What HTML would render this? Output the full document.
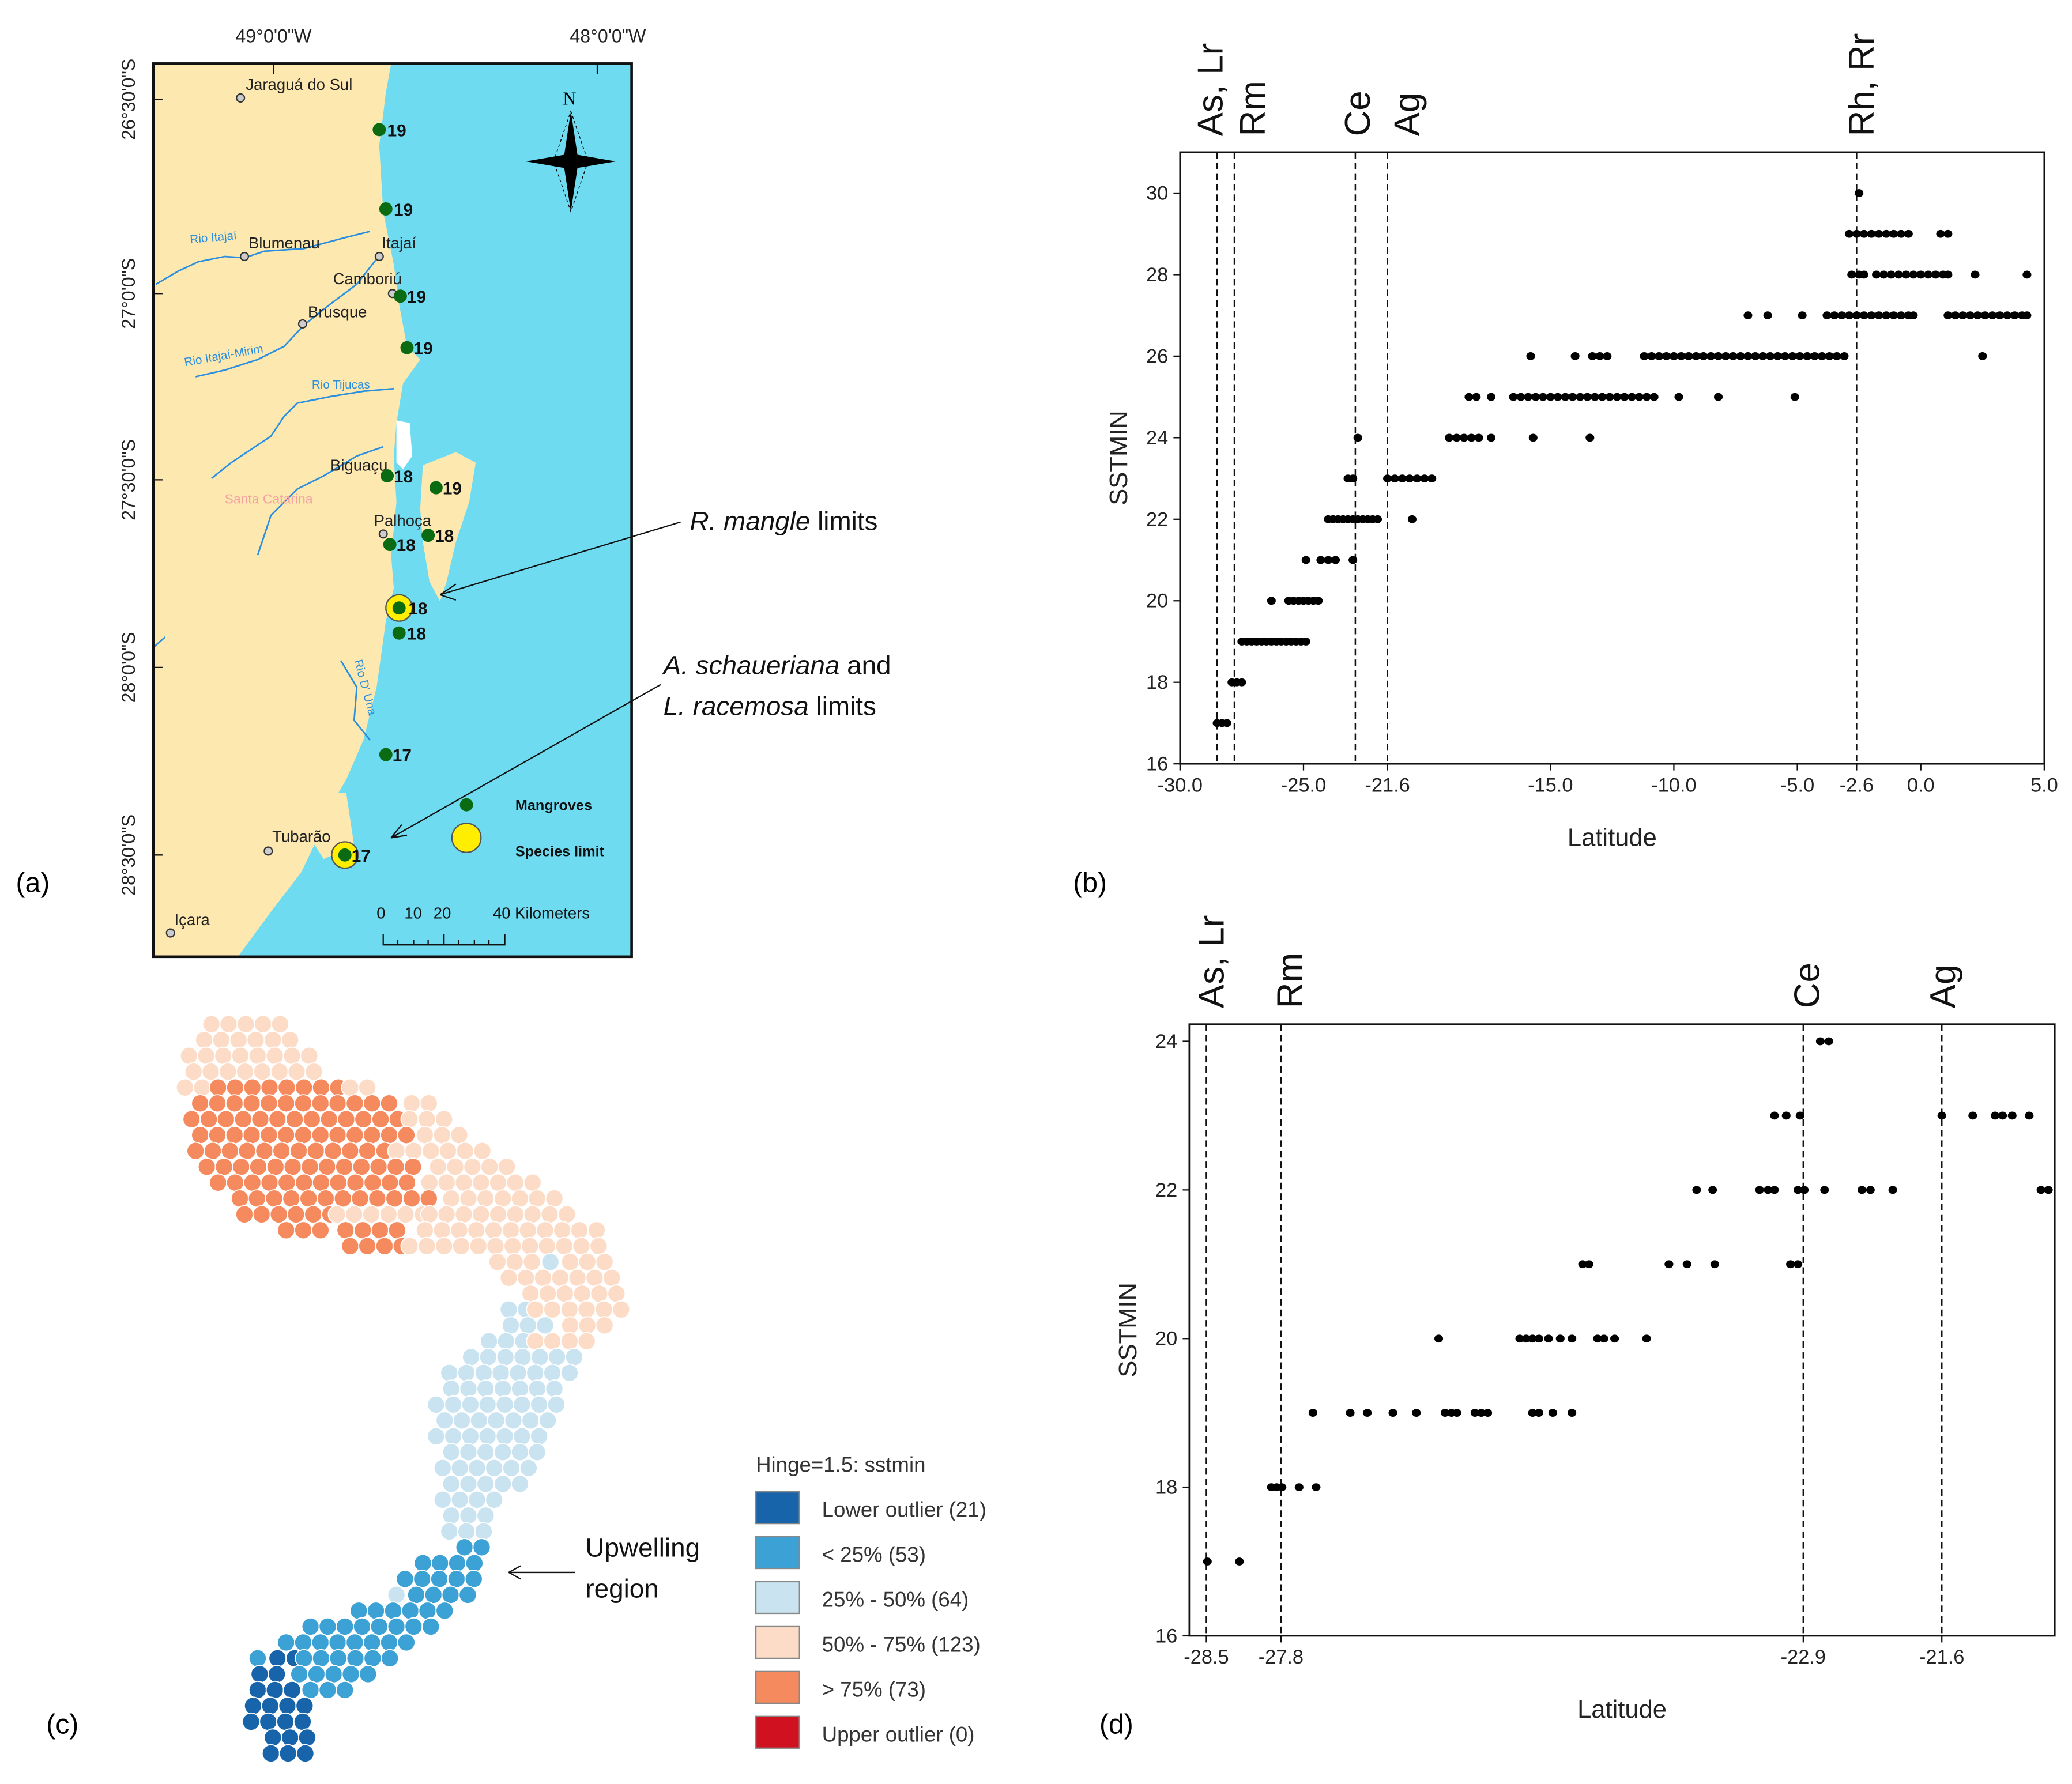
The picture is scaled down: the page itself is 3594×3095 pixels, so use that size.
<!DOCTYPE html>
<html><head><meta charset="utf-8"><style>
html,body{margin:0;padding:0;background:#fff;}
svg{display:block;font-family:"Liberation Sans",Arial,sans-serif;}
</style></head><body>
<svg id="root" width="3594" height="3095" viewBox="0 0 1568 1350" xmlns="http://www.w3.org/2000/svg">
<rect width="1568" height="1350" fill="#fff"/>

<!-- ===== Panel (a) map ===== -->
<g>
  <rect x="116" y="48" width="362" height="676" fill="#6edbf1"/>
  <path fill="#fde8b0" d="M116,48 L296,48 L292,70 L287,110 L290,160 L298,200 L302,230 L308,262 L318,272 L305,290 L300,320 L298,345 L300,380 L296,420 L298,445 L292,470 L285,520 L275,560 L262,590 L250,610 L240,635 L228,660 L205,690 L180,724 L116,724 Z"/>
  <path fill="#fde8b0" d="M320,352 L345,342 L360,350 L355,380 L345,410 L338,440 L333,455 L325,440 L320,410 L318,385 Z"/>
  <path fill="#fde8b0" d="M236,600 L262,600 L268,640 L245,650 L232,630 Z"/>
  <path fill="#fff" d="M300,318 L310,320 L312,345 L305,355 L300,350 Z"/>
  <g fill="none" stroke="#2a8fe0" stroke-width="1.2">
    <path d="M118,215 L135,205 L150,198 L170,194 L185,195 L200,190 L230,188 L260,180 L280,175"/>
    <path d="M148,285 L170,280 L195,272 L215,262 L230,246 L250,230 L270,215 L288,192"/>
    <path d="M160,362 L175,350 L190,340 L205,330 L215,315 L225,305 L250,300 L275,296 L298,294"/>
    <path d="M195,420 L205,390 L225,370 L245,360 L270,345 L290,338"/>
    <path d="M258,500 L270,520 L268,545 L280,560"/>
    <path d="M116,490 L125,482"/>
  </g>
  <g font-size="9" fill="#2a8fe0">
    <text x="144" y="184" transform="rotate(-5 144 184)">Rio Itajaí</text>
    <text x="140" y="277" transform="rotate(-10 140 277)">Rio Itajaí-Mirim</text>
    <text x="236" y="294">Rio Tijucas</text>
    <text x="268" y="500" transform="rotate(75 268 500)">Rio D' Una</text>
  </g>
  <text x="170" y="381" font-size="10" fill="#f2a0a0">Santa Catarina</text>
  <g font-size="12" fill="#222">
    <circle cx="182" cy="74" r="3" fill="#ccc" stroke="#333"/><text x="186" y="68">Jaraguá do Sul</text>
    <circle cx="185" cy="194" r="3" fill="#ccc" stroke="#333"/><text x="188" y="188">Blumenau</text>
    <circle cx="287" cy="194" r="3" fill="#ccc" stroke="#333"/><text x="289" y="188">Itajaí</text>
    <text x="252" y="215">Camboriú</text><circle cx="297" cy="222" r="3" fill="#ccc" stroke="#333"/>
    <circle cx="229" cy="245" r="3" fill="#ccc" stroke="#333"/><text x="233" y="240">Brusque</text>
    <text x="250" y="356">Biguaçu</text>
    <circle cx="290" cy="404" r="3" fill="#ccc" stroke="#333"/><text x="283" y="398">Palhoça</text>
    <circle cx="203" cy="644" r="3" fill="#ccc" stroke="#333"/><text x="206" y="637">Tubarão</text>
    <circle cx="129" cy="706" r="3" fill="#ccc" stroke="#333"/><text x="132" y="700">Içara</text>
  </g>
  <g font-size="13" font-weight="bold" fill="#111">
    <circle cx="302" cy="460" r="10" fill="#ffee00" stroke="#555"/>
    <circle cx="261" cy="647" r="10" fill="#ffee00" stroke="#555"/>
    <circle cx="287" cy="98" r="5" fill="#0b6b12"/><text x="293" y="103">19</text>
    <circle cx="292" cy="158" r="5" fill="#0b6b12"/><text x="298" y="163">19</text>
    <circle cx="303" cy="224" r="5" fill="#0b6b12"/><text x="308" y="229">19</text>
    <circle cx="308" cy="263" r="5" fill="#0b6b12"/><text x="313" y="268">19</text>
    <circle cx="293" cy="360" r="5" fill="#0b6b12"/><text x="298" y="365">18</text>
    <circle cx="330" cy="369" r="5" fill="#0b6b12"/><text x="335" y="374">19</text>
    <circle cx="295" cy="412" r="5" fill="#0b6b12"/><text x="300" y="417">18</text>
    <circle cx="324" cy="405" r="5" fill="#0b6b12"/><text x="329" y="410">18</text>
    <circle cx="302" cy="460" r="5" fill="#0b6b12"/><text x="309" y="465">18</text>
    <circle cx="302" cy="479" r="5" fill="#0b6b12"/><text x="308" y="484">18</text>
    <circle cx="292" cy="571" r="5" fill="#0b6b12"/><text x="297" y="576">17</text>
    <circle cx="261" cy="647" r="5" fill="#0b6b12"/><text x="266" y="652">17</text>
  </g>
  <g>
    <text x="431" y="79" font-family="Liberation Serif,serif" font-size="14" text-anchor="middle">N</text>
    <path d="M432,84 L437,117 L432,122 L427,117 Z M432,160 L437,127 L432,122 L427,127 Z M398,122 L427,117 L432,122 L427,127 Z M466,122 L437,117 L432,122 L437,127 Z" fill="#000"/>
    <path d="M432,84 L445,122 L432,160 L419,122 Z" fill="none" stroke="#000" stroke-width="0.6" stroke-dasharray="2,2"/>
  </g>
  <g font-size="11" font-weight="bold" fill="#111">
    <circle cx="353" cy="609" r="5" fill="#0b6b12"/><text x="390" y="613">Mangroves</text>
    <circle cx="353" cy="634" r="11" fill="#ffee00" stroke="#555"/><text x="390" y="648">Species limit</text>
  </g>
  <g font-size="12" fill="#111">
    <text x="285" y="695">0</text><text x="306" y="695">10</text><text x="328" y="695">20</text><text x="373" y="695">40 Kilometers</text>
    <path d="M290,707 L290,715 L382,715 L382,707 M301,711 L301,715 M313,711 L313,715 M324,711 L324,715 M336,707 L336,715 M347,711 L347,715 M359,711 L359,715 M370,711 L370,715" stroke="#111" fill="none"/>
  </g>
  <rect x="116" y="48" width="362" height="676" fill="none" stroke="#111" stroke-width="2"/>
  <g font-size="14" fill="#222">
    <path d="M207,48 L207,56 M452,48 L452,56 M116,75 L123,75 M116,222 L123,222 M116,363 L123,363 M116,505 L123,505 M116,647 L123,647" stroke="#111"/>
    <text x="207" y="32" text-anchor="middle">49°0'0"W</text>
    <text x="460" y="32" text-anchor="middle">48°0'0"W</text>
    <text transform="translate(102,75) rotate(-90)" text-anchor="middle">26°30'0"S</text>
    <text transform="translate(102,222) rotate(-90)" text-anchor="middle">27°0'0"S</text>
    <text transform="translate(102,363) rotate(-90)" text-anchor="middle">27°30'0"S</text>
    <text transform="translate(102,505) rotate(-90)" text-anchor="middle">28°0'0"S</text>
    <text transform="translate(102,647) rotate(-90)" text-anchor="middle">28°30'0"S</text>
  </g>
  <g font-size="20" fill="#111">
    <text x="522" y="401"><tspan font-style="italic">R. mangle</tspan> limits</text>
    <text x="502" y="510"><tspan font-style="italic">A. schaueriana</tspan> and</text>
    <text x="502" y="541"><tspan font-style="italic">L. racemosa</tspan> limits</text>
    <path d="M515,395 L333,450 M333,450 L345,442 M333,450 L345,454" stroke="#111" fill="none"/>
    <path d="M500,518 L296,634 M296,634 L304,624 M296,634 L308,632" stroke="#111" fill="none"/>
  </g>
  <text x="12" y="675" font-size="21">(a)</text>
</g>

<!-- ===== Panel (c) ===== -->
<g id="hexmap"></g>
<g font-size="16" fill="#333">
  <text x="572" y="1114">Hinge=1.5: sstmin</text>
  <rect x="572" y="1129" width="33" height="24" fill="#1764ab" stroke="#888"/><text x="622" y="1148">Lower outlier (21)</text>
  <rect x="572" y="1163" width="33" height="24" fill="#3ca2d5" stroke="#888"/><text x="622" y="1182">&lt; 25% (53)</text>
  <rect x="572" y="1197" width="33" height="24" fill="#c9e4f0" stroke="#888"/><text x="622" y="1216">25% - 50% (64)</text>
  <rect x="572" y="1231" width="33" height="24" fill="#fcdcc7" stroke="#888"/><text x="622" y="1250">50% - 75% (123)</text>
  <rect x="572" y="1265" width="33" height="24" fill="#f58a5e" stroke="#888"/><text x="622" y="1284">&gt; 75% (73)</text>
  <rect x="572" y="1299" width="33" height="24" fill="#d0111f" stroke="#888"/><text x="622" y="1318">Upper outlier (0)</text>
</g>
<g font-size="20" fill="#111">
  <text x="443" y="1178">Upwelling</text><text x="443" y="1209">region</text>
  <path d="M435,1190 L385,1190 M385,1190 L394,1185 M385,1190 L394,1195" stroke="#111" fill="none"/>
</g>
<text x="35" y="1312" font-size="21">(c)</text>

<!-- ===== Panel (b) ===== -->
<g id="chartB"></g>
<text x="812" y="675" font-size="21">(b)</text>
<!-- ===== Panel (d) ===== -->
<g id="chartD"></g>
<text x="832" y="1312" font-size="21">(d)</text>

<script>
var NS='http://www.w3.org/2000/svg';
function mk(parent,tag,attrs,txt){var e=document.createElementNS(NS,tag);for(var k in attrs)e.setAttribute(k,attrs[k]);if(txt!==undefined)e.textContent=txt;parent.appendChild(e);return e;}

/* ---- Panel (b) data ---- */
var bLevels=[17,18,19,20,21,22,23,24,25,26,27,28,29,30];
var bLats=[
[-28.5,-28.3,-28.1],
[-27.9,-27.7,-27.5],
[-27.5,-27.3,-27.1,-26.9,-26.7,-26.5,-26.3,-26.1,-25.9,-25.7,-25.5,-25.3,-25.1,-24.9],
[-26.3,-25.6,-25.4,-25.2,-25.0,-24.8,-24.6,-24.4],
[-24.9,-24.3,-24.0,-23.7,-23.0],
[-24.0,-23.8,-23.6,-23.4,-23.2,-23.0,-22.8,-22.6,-22.4,-22.2,-22.0,-20.6],
[-23.2,-23.0,-21.6,-21.3,-21.0,-20.7,-20.4,-20.1,-19.8],
[-22.8,-19.1,-18.8,-18.5,-18.2,-17.9,-17.4,-15.7,-13.4],
[-18.3,-18.0,-17.4,-16.5,-16.2,-15.9,-15.6,-15.3,-15.0,-14.7,-14.4,-14.1,-13.8,-13.5,-13.2,-12.9,-12.6,-12.3,-12.0,-11.7,-11.4,-11.1,-10.8,-9.8,-8.2,-5.1],
[-15.8,-14.0,-13.3,-13.0,-12.7,-11.2,-10.9,-10.6,-10.3,-10.0,-9.7,-9.4,-9.1,-8.8,-8.5,-8.2,-7.9,-7.6,-7.3,-7.0,-6.7,-6.4,-6.1,-5.8,-5.5,-5.2,-4.9,-4.6,-4.3,-4.0,-3.7,-3.4,-3.1,2.5],
[-7.0,-6.2,-4.8,-3.8,-3.5,-3.2,-2.9,-2.6,-2.3,-2.0,-1.7,-1.4,-1.1,-0.8,-0.5,-0.3,1.1,1.4,1.7,2.0,2.3,2.6,2.9,3.2,3.5,3.8,4.1,4.3],
[-2.8,-2.5,-2.3,-1.8,-1.5,-1.2,-0.9,-0.6,-0.3,0.0,0.3,0.6,0.9,1.1,2.2,4.3],
[-2.9,-2.6,-2.3,-2.0,-1.7,-1.4,-1.1,-0.8,-0.5,0.8,1.1],
[-2.5]];
var bXTicks=[-30.0,-25.0,-21.6,-15.0,-10.0,-5.0,-2.6,0.0,5.0];
var bYTicks=[16,18,20,22,24,26,28,30];
var bLimitLats=[-28.5,-27.8,-22.9,-21.6,-2.6];
var bLimitNames=['As, Lr','Rm','Ce','Ag','Rh, Rr'];
var bLabelDx=[4,23,11,24,13];

/* ---- Panel (d) data ---- */
var dLevels=[17,18,19,20,21,22,23,24];
var dLats=[
[-28.49,-28.19],
[-27.89,-27.84,-27.79,-27.63,-27.47],
[-27.5,-27.15,-26.99,-26.75,-26.53,-26.26,-26.2,-26.15,-25.98,-25.92,-25.86,-25.44,-25.38,-25.25,-25.07],
[-26.32,-25.56,-25.5,-25.44,-25.38,-25.29,-25.18,-25.07,-24.83,-24.77,-24.67,-24.37],
[-24.97,-24.91,-24.16,-23.99,-23.73,-23.02,-22.95],
[-23.9,-23.75,-23.31,-23.23,-23.17,-22.95,-22.89,-22.7,-22.35,-22.27,-22.06,-20.67,-20.6],
[-23.17,-23.06,-22.93,-21.6,-21.31,-21.1,-21.03,-20.94,-20.78],
[-22.74,-22.66]];
var dXTicks=[-28.5,-27.8,-22.9,-21.6];
var dYTicks=[16,18,20,22,24];
var dLimitLats=[-28.5,-27.8,-22.9,-21.6];
var dLimitNames=['As, Lr','Rm','Ce','Ag'];
var dLabelDx=[13,16,12,10];

function drawChart(g,cfg,levels,lats,xticks,yticks,limLats,limNames,labDx){
  var L=cfg.L,R=cfg.R,T=cfg.T,B=cfg.B;
  function sx(v){return L+(v-cfg.x0)/(cfg.x1-cfg.x0)*(R-L);}
  function sy(v){return B-(v-cfg.y0)/(cfg.y1-cfg.y0)*(B-cfg.yTopRef);}
  var f=mk(g,'rect',{x:L,y:T,width:R-L,height:B-T,fill:'none',stroke:'#111','stroke-width':1.2});
  
  
  xticks.forEach(function(t){
    var x=sx(t);
    mk(g,'line',{x1:x,y1:B,x2:x,y2:B+5,stroke:'#111'});
    var tx=mk(g,'text',{x:x,y:B+21,'font-size':15,'text-anchor':'middle',fill:'#222'},t.toFixed(1));
    
    
  });
  yticks.forEach(function(t){
    var y=sy(t);
    mk(g,'line',{x1:L-5,y1:y,x2:L,y2:y,stroke:'#111'});
    var ty=mk(g,'text',{x:L-9,y:y+5,'font-size':15,'text-anchor':'end',fill:'#222'},String(t));
    
    
  });
  limLats.forEach(function(v,i){
    var x=sx(v);
    var ln=mk(g,'line',{x1:x,y1:T,x2:x,y2:B,stroke:'#111','stroke-width':1.1,'stroke-dasharray':'5,3'});
    
    
    var lb=mk(g,'text',{transform:'translate('+(x+labDx[i])+','+(T-12)+') rotate(-90)','font-size':27,fill:'#111'},limNames[i]);
    
    
  });
  levels.forEach(function(lv,i){
    lats[i].forEach(function(la){
      var c=mk(g,'ellipse',{cx:sx(la),cy:sy(lv),rx:3.3,ry:3,fill:'#000'});
      
      
    });
  });
  var xt=mk(g,'text',{x:(L+R)/2,y:B+cfg.xtOff,'font-size':19,'text-anchor':'middle',fill:'#222'},'Latitude');
  
  
  var yt=mk(g,'text',{transform:'translate('+(L-40)+','+((T+B)/2)+') rotate(-90)','font-size':19,'text-anchor':'middle',fill:'#222'},'SSTMIN');
  
  
}
drawChart(document.getElementById('chartB'),{L:893,R:1547,T:115,B:578,x0:-30,x1:5,y0:16,y1:30,yTopRef:146,xtOff:62},bLevels,bLats,bXTicks,bYTicks,bLimitLats,bLimitNames,bLabelDx);
drawChart(document.getElementById('chartD'),{L:900,R:1555,T:775,B:1238,x0:-28.66,x1:-20.54,y0:16,y1:24,yTopRef:788,xtOff:62},dLevels,dLats,dXTicks,dYTicks,dLimitLats,dLimitNames,dLabelDx);

/* ---- Panel (c) hex map ---- */
var C={P:'#fcdcc7',O:'#f58a5e',L:'#c9e4f0',M:'#3ca2d5',D:'#1764ab'};
var hexRows=[
[775,[[160,215,'P']]],[787,[[148,232,'P']]],[799,[[143,240,'P']]],[811,[[140,250,'P']]],
[823,[[140,160,'P'],[165,260,'O'],[265,290,'P']]],[835,[[145,300,'O'],[305,325,'P']]],
[847,[[145,305,'O'],[310,340,'P']]],[859,[[145,310,'O'],[315,350,'P']]],
[871,[[148,295,'O'],[300,370,'P']]],[883,[[150,320,'O'],[325,390,'P']]],
[895,[[165,320,'O'],[325,410,'P']]],[907,[[175,330,'O'],[335,430,'P']]],
[919,[[185,250,'O'],[255,320,'P'],[325,440,'P']]],[931,[[210,245,'O'],[255,310,'O'],[315,455,'P']]],
[943,[[265,305,'O'],[310,465,'P']]],[955,[[370,405,'P'],[410,420,'L'],[425,470,'P']]],
[967,[[385,475,'P']]],[979,[[395,478,'P']]],[991,[[385,400,'L'],[405,470,'P']]],
[1003,[[380,420,'L'],[425,460,'P']]],[1015,[[370,400,'L'],[405,450,'P']]],
[1027,[[350,440,'L']]],[1039,[[340,435,'L']]],[1051,[[335,430,'L']]],[1063,[[330,425,'L']]],
[1075,[[330,420,'L']]],[1087,[[330,415,'L']]],[1099,[[335,410,'L']]],[1111,[[335,400,'L']]],
[1123,[[335,395,'L']]],[1135,[[335,385,'L']]],[1147,[[335,380,'L']]],[1159,[[340,375,'L']]],
[1171,[[335,340,'L'],[345,372,'M']]],[1183,[[320,370,'M']]],[1195,[[300,365,'M']]],
[1207,[[300,310,'L'],[315,355,'M']]],[1219,[[265,345,'M']]],[1231,[[235,330,'M']]],
[1243,[[210,320,'M']]],[1255,[[195,205,'M'],[210,225,'D'],[230,305,'M']]],
[1267,[[190,215,'D'],[220,290,'M']]],[1279,[[195,230,'D'],[235,270,'M']]],
[1291,[[185,240,'D']]],[1303,[[190,240,'D']]],[1315,[[200,235,'D']]],[1327,[[205,232,'D']]]];
var hm=document.getElementById('hexmap');
hexRows.forEach(function(r,i){
  var off=(i%2)*6.5;
  r[1].forEach(function(s){
    for(var x=s[0]+off;x<=s[1];x+=13){
      var c=mk(hm,'circle',{cx:x,cy:r[0],r:6.6,fill:C[s[2]],stroke:'#fff','stroke-width':0.8});
      
      
    }
  });
});
</script>
</svg>
</body></html>
